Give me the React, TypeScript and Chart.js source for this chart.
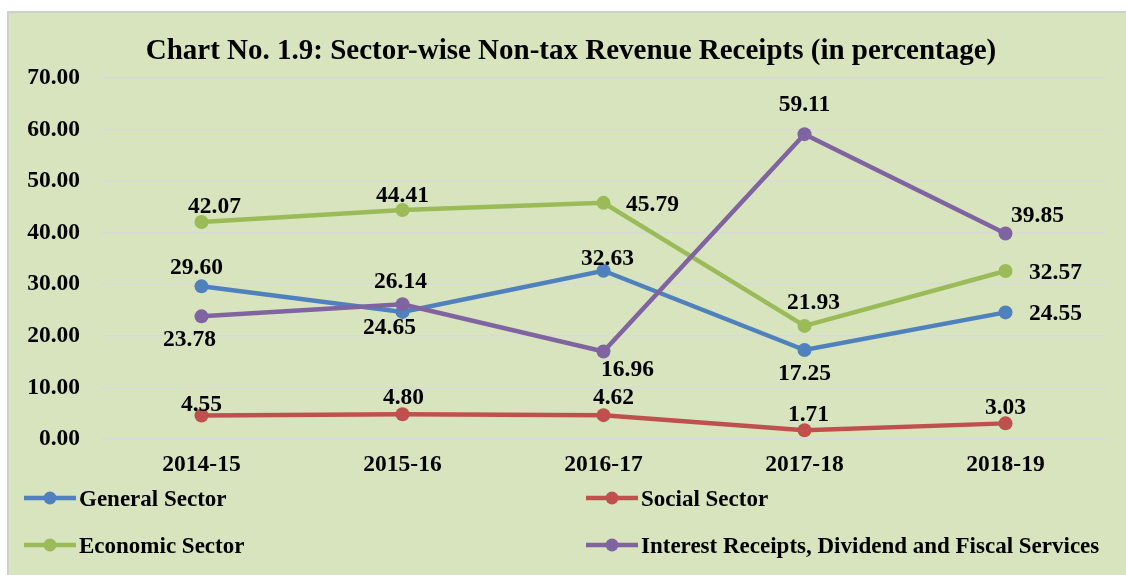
import React, { useEffect, useRef } from "react";
import { Chart, registerables } from "chart.js";

Chart.register(...registerables);

const categories = ["2014-15", "2015-16", "2016-17", "2017-18", "2018-19"];
const generalSector = [29.6, 24.65, 32.63, 17.25, 24.55];
const socialSector = [4.55, 4.8, 4.62, 1.71, 3.03];
const economicSector = [42.07, 44.41, 45.79, 21.93, 32.57];
const interestReceipts = [23.78, 26.14, 16.96, 59.11, 39.85];
const seriesNames = [
  "General Sector",
  "Social Sector",
  "Economic Sector",
  "Interest Receipts, Dividend and Fiscal Services",
];
const yTicks = [0, 10, 20, 30, 40, 50, 60, 70];
const titleText = "Chart No. 1.9: Sector-wise Non-tax Revenue Receipts (in percentage)";

// label placement (pixel offsets of label centre from its point)
const labelOffsets: number[][][] = [
  [[-5, -20], [-13, 14], [4, -14], [0, 22], [50, 0]],
  [[0, -13], [1, -18], [10, -19], [4, -17], [0, -17]],
  [[13, -17], [0, -16], [49, 0], [9, -25], [50, 0]],
  [[-12, 22], [-2, -24], [24, 16], [0, -31], [32, -19]],
];

const colors = ["#4f81bd", "#c0504d", "#9bbb59", "#8064a2"];
const FONT = '"Liberation Serif", "Times New Roman", serif';

export default function App() {
  const ref = useRef<HTMLCanvasElement | null>(null);

  useEffect(() => {
    if (!ref.current) return;
    const seriesData = [generalSector, socialSector, economicSector, interestReceipts];

    const bgPlugin = {
      id: "bg",
      beforeDraw(chart: any) {
        const ctx = chart.ctx;
        ctx.save();
        ctx.fillStyle = "#ffffff";
        ctx.fillRect(0, 0, chart.width, chart.height);
        ctx.fillStyle = "#d7e4bd";
        ctx.fillRect(7, 11, chart.width - 7, chart.height - 11);
        ctx.strokeStyle = "#d0d0d0";
        ctx.lineWidth = 2;
        ctx.beginPath();
        ctx.moveTo(8, chart.height);
        ctx.lineTo(8, 12);
        ctx.lineTo(chart.width, 12);
        ctx.stroke();
        ctx.fillStyle = "#000";
        ctx.font = `bold 29px ${FONT}`;
        ctx.textAlign = "center";
        ctx.textBaseline = "alphabetic";
        ctx.fillText(titleText, 571, 59);
        ctx.restore();
      },
    };

    const labelsPlugin = {
      id: "dlabels",
      afterDatasetsDraw(chart: any) {
        const ctx = chart.ctx;
        ctx.save();
        ctx.fillStyle = "#000";
        ctx.font = `bold 23.5px ${FONT}`;
        ctx.textAlign = "center";
        ctx.textBaseline = "alphabetic";
        chart.data.datasets.forEach((ds: any, di: number) => {
          const meta = chart.getDatasetMeta(di);
          meta.data.forEach((pt: any, i: number) => {
            const off = labelOffsets[di][i];
            ctx.fillText((ds.data[i] as number).toFixed(2), pt.x + off[0], pt.y + off[1] + 8);
          });
        });
        ctx.restore();
      },
      afterDraw(chart: any) {
        const ctx = chart.ctx;
        ctx.save();
        const pos = [
          [24, 498],
          [586, 498],
          [24, 545],
          [586, 545],
        ];
        chart.data.datasets.forEach((ds: any, di: number) => {
          const [x, y] = pos[di];
          ctx.strokeStyle = ds.borderColor;
          ctx.lineWidth = 4.5;
          ctx.beginPath();
          ctx.moveTo(x, y);
          ctx.lineTo(x + 52, y);
          ctx.stroke();
          ctx.fillStyle = ds.borderColor;
          ctx.beginPath();
          ctx.arc(x + 26, y, 6.5, 0, Math.PI * 2);
          ctx.fill();
          ctx.fillStyle = "#000";
          ctx.font = `bold 23px ${FONT}`;
          ctx.textAlign = "left";
          ctx.textBaseline = "alphabetic";
          ctx.fillText(ds.label, x + 55, y + 8);
        });
        ctx.restore();
      },
    };

    const chart = new Chart(ref.current, {
      type: "line",
      data: {
        labels: categories,
        datasets: seriesData.map((d, i) => ({
          label: seriesNames[i],
          data: d,
          borderColor: colors[i],
          backgroundColor: colors[i],
          pointBackgroundColor: colors[i],
          pointBorderColor: colors[i],
          borderWidth: 4.5,
          pointRadius: 7,
          pointBorderWidth: 0,
          tension: 0,
          fill: false,
          order: 4 - i,
        })),
      },
      options: {
        animation: false,
        responsive: false,
        maintainAspectRatio: false,
        devicePixelRatio: 1,
        layout: { padding: { top: 78, right: 20, bottom: 0, left: 0 } },
        plugins: {
          legend: { display: false },
          title: { display: false },
          tooltip: { enabled: false },
        },
        scales: {
          x: {
            offset: true,
            grid: { display: false, drawTicks: false },
            border: { display: false },
            ticks: {
              color: "#000",
              font: { family: FONT, size: 23.5, weight: "bold" },
              padding: 12,
              maxRotation: 0,
            },
            afterFit: (scale: any) => {
              scale.height = 136;
            },
          },
          y: {
            min: 0,
            max: 70,
            afterBuildTicks: (scale: any) => {
              scale.ticks = yTicks.map((v) => ({ value: v }));
            },
            grid: { color: "#d9d9d9", lineWidth: 1.6, drawTicks: false },
            border: { display: false },
            ticks: {
              color: "#000",
              font: { family: FONT, size: 23.5, weight: "bold" },
              padding: 21,
              callback: (v: any) => Number(v).toFixed(2),
            },
            afterFit: (scale: any) => {
              scale.width = 101;
            },
          },
        },
      },
      plugins: [bgPlugin, labelsPlugin],
    } as any);

    return () => chart.destroy();
  }, []);

  return (
    <div style={{ position: "fixed", left: 0, top: 0, width: 1126, height: 575 }}>
      <canvas ref={ref} width={1126} height={575} style={{ width: 1126, height: 575, display: "block" }} />
    </div>
  );
}
